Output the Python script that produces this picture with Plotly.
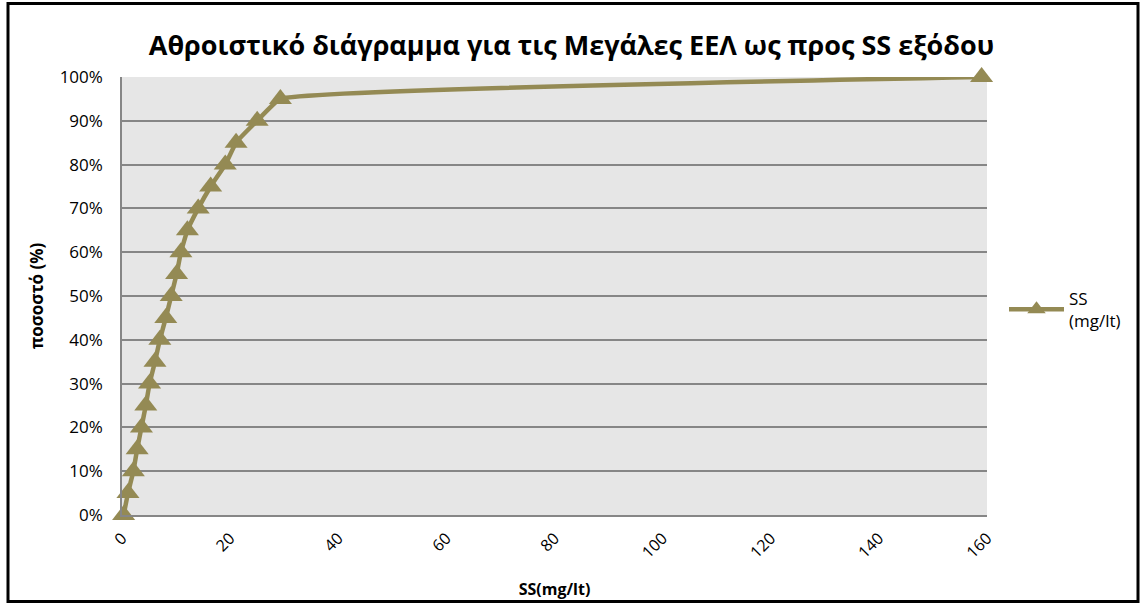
import plotly.graph_objects as go

# Cumulative distribution of effluent suspended solids
ss_values = [0.3, 1.1, 2.1, 2.8, 3.6, 4.4, 5.1, 6.1, 7.0, 8.1, 9.1,
             10.1, 10.9, 12.1, 14.1, 16.4, 19.1, 21.1, 25.0, 29.3, 159.0]
cum_pct = [0.00, 0.05, 0.10, 0.15, 0.20, 0.25, 0.30, 0.35, 0.40, 0.45, 0.50,
           0.55, 0.60, 0.65, 0.70, 0.75, 0.80, 0.85, 0.90, 0.95, 1.00]

olive = "#948A54"
W, H = 1143, 608
L, R, T, B = 122, 156, 77, 90

fig = go.Figure()
fig.add_trace(go.Scatter(
    x=ss_values, y=cum_pct, mode="lines+markers",
    name="SS<br>(mg/lt)", showlegend=True, cliponaxis=False,
    line=dict(color=olive, width=4.5, shape="spline", smoothing=0.3),
    marker=dict(symbol="triangle-up", size=20, color=olive),
))

pw, ph = W - L - R, H - T - B
def px_x(p):
    return (p - L) / pw
def px_y(p):
    return 1 - (p - T) / ph

fig.update_layout(
    width=W, height=H,
    margin=dict(l=L, r=R, t=T, b=B),
    paper_bgcolor="white",
    plot_bgcolor="#E6E6E6",
    showlegend=True,
    font=dict(family="Open Sans", color="black"),
    title=dict(text="<b>Αθροιστικό διάγραμμα για τις Μεγάλες ΕΕΛ ως προς SS εξόδου</b>",
               x=0.5, xanchor="center", y=1 - 46 / H, yanchor="middle",
               font=dict(size=27, family="Open Sans")),
    xaxis=dict(range=[0, 160], dtick=20, tickangle=-45, showgrid=False,
               showline=True, linecolor="#868686", linewidth=1.5,
               ticks="", ticklabelstandoff=6,
               tickfont=dict(size=16), zeroline=False,
               title=dict(text="<b>SS(mg/lt)</b>", font=dict(size=16), standoff=22)),
    yaxis=dict(range=[0, 1], dtick=0.1, tickformat=".0%", showgrid=True,
               gridcolor="#868686", gridwidth=1.5,
               showline=True, linecolor="#868686", linewidth=1.5,
               ticks="", ticklabelstandoff=14,
               tickfont=dict(size=17), zeroline=False,
               title=dict(text="<b>ποσοστό (%)</b>", font=dict(size=17), standoff=12)),
    legend=dict(x=px_x(1004), y=px_y(282), xanchor="left", yanchor="top",
                bgcolor="rgba(0,0,0,0)", font=dict(size=17),
                itemwidth=55, tracegroupgap=0),
    shapes=[dict(type="rect", xref="paper", yref="paper",
                 x0=px_x(8), x1=px_x(1138), y0=px_y(3), y1=px_y(605),
                 line=dict(color="black", width=3), layer="above")],
)

fig.write_html("out.html")
